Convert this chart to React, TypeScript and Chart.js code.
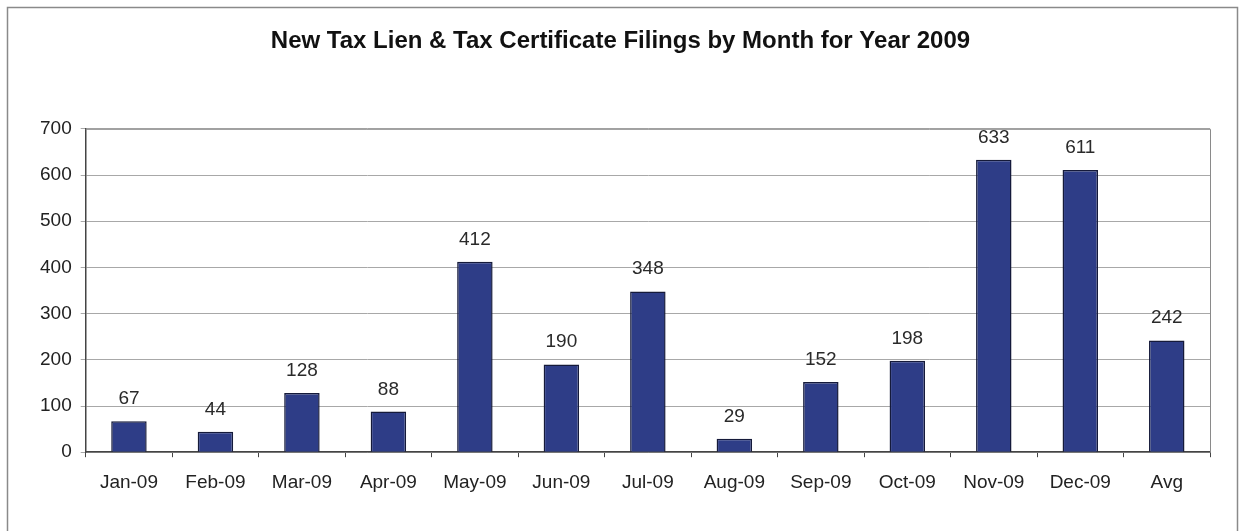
import React, { useEffect, useRef } from "react";
import { Chart, registerables } from "chart.js";

Chart.register(...registerables);

const categories = ["Jan-09", "Feb-09", "Mar-09", "Apr-09", "May-09", "Jun-09", "Jul-09", "Aug-09", "Sep-09", "Oct-09", "Nov-09", "Dec-09", "Avg"];
const filings = [67, 44, 128, 88, 412, 190, 348, 29, 152, 198, 633, 611, 242];
const titleText = "New Tax Lien & Tax Certificate Filings by Month for Year 2009";

const FONT = "Arial, 'Liberation Sans', sans-serif";

const framePlugin = {
  id: "frame",
  beforeDraw(chart: any) {
    const { ctx, width, height } = chart;
    ctx.save();
    ctx.fillStyle = "#ffffff";
    ctx.fillRect(0, 0, width, height);
    ctx.strokeStyle = "#8a8a8a";
    ctx.lineWidth = 1.5;
    ctx.strokeRect(7.5, 7.5, 1230, height + 20);
    ctx.restore();
  },
  afterDatasetsDraw(chart: any) {
    const { ctx, chartArea } = chart;
    ctx.save();
    ctx.strokeStyle = "#8a8a8a";
    ctx.lineWidth = 1;
    ctx.beginPath();
    ctx.moveTo(chartArea.left, chartArea.top + 0.5);
    ctx.lineTo(chartArea.right + 0.5, chartArea.top + 0.5);
    ctx.lineTo(chartArea.right + 0.5, chartArea.bottom);
    ctx.stroke();
    // value labels
    const meta = chart.getDatasetMeta(0);
    ctx.fillStyle = "#2a2a2a";
    ctx.font = `19px ${FONT}`;
    ctx.textAlign = "center";
    ctx.textBaseline = "alphabetic";
    meta.data.forEach((bar: any, i: number) => {
      ctx.fillText(String(filings[i]), bar.x, bar.y - 17);
    });
    ctx.restore();
  },
};

export default function App() {
  const ref = useRef<HTMLCanvasElement>(null);
  useEffect(() => {
    if (!ref.current) return;
    const chart = new Chart(ref.current, {
      type: "bar",
      data: {
        labels: categories,
        datasets: [
          {
            data: filings,
            backgroundColor: "#2E3D87",
            borderColor: "#151a3a",
            borderWidth: 1.5,
            categoryPercentage: 1,
            barPercentage: 0.41,
          },
        ],
      },
      options: {
        animation: false,
        responsive: false,
        layout: { padding: { left: 31, right: 31, top: 0, bottom: 23 } },
        plugins: {
          legend: { display: false },
          tooltip: { enabled: false },
          title: {
            display: true,
            text: titleText,
            color: "#111",
            font: { family: FONT, size: 24, weight: "bold" },
            padding: { top: 27, bottom: 73 },
          },
        },
        scales: {
          x: {
            offset: true,
            grid: {
              offset: true,
              drawOnChartArea: false,
              drawTicks: true,
              tickLength: 5,
              color: "#444",
            },
            border: { color: "#444", width: 1.5 },
            ticks: { color: "#222", font: { family: FONT, size: 19 }, padding: 14, maxRotation: 0 },
          },
          y: {
            min: 0,
            max: 700,
            ticks: { stepSize: 100, color: "#222", font: { family: FONT, size: 19 }, padding: 9 },
            grid: { color: "#a8a8a8", tickLength: 5, lineWidth: 1 },
            border: { color: "#444", width: 1.5 },
          },
        },
      },
      plugins: [framePlugin],
    });
    return () => chart.destroy();
  }, []);
  return (
    <div style={{ position: "fixed", left: 0, top: 0, width: 1241, height: 531 }}>
      <canvas ref={ref} width={1241} height={531} />
    </div>
  );
}
